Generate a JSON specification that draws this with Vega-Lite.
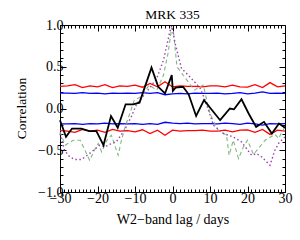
{
  "$schema": "https://vega.github.io/schema/vega-lite/v6.json",
  "width": 225,
  "height": 167,
  "autosize": {"type": "none"},
  "padding": {"left": 60, "top": 25, "right": 15, "bottom": 48},
  "background": "white",
  "title": {"text": "MRK 335", "font": "Liberation Serif", "fontSize": 13.5, "fontWeight": "normal", "color": "black", "offset": -3, "anchor": "middle"},
  "config": {
    "view": {"stroke": null},
    "axis": {"grid": false, "domainColor": "black", "tickColor": "black", "labelColor": "black", "titleColor": "black", "labelFont": "Liberation Serif", "titleFont": "Liberation Serif", "labelFontSize": 14, "titleFontSize": 14, "titleFontWeight": "normal", "labelFlush": false, "labelOverlap": false, "domainWidth": 1, "tickWidth": 1}
  },
  "datasets": {
    "black": [
      {"lag": -30, "r": -0.14}, {"lag": -28.4, "r": -0.34}, {"lag": -26.8, "r": -0.24}, {"lag": -24.3, "r": -0.24},
      {"lag": -22.2, "r": -0.27}, {"lag": -20.3, "r": -0.27}, {"lag": -18.4, "r": -0.44}, {"lag": -16.4, "r": -0.09},
      {"lag": -14.6, "r": -0.23}, {"lag": -12.5, "r": 0.05}, {"lag": -10.5, "r": 0.05}, {"lag": -8.8, "r": 0.07},
      {"lag": -5.6, "r": 0.49}, {"lag": -3.8, "r": 0.26}, {"lag": -2.0, "r": 0.18}, {"lag": -0.2, "r": 0.40},
      {"lag": 0.1, "r": 0.21}, {"lag": 0.8, "r": 0.25}, {"lag": 2.8, "r": 0.26}, {"lag": 4.3, "r": 0.17},
      {"lag": 6.3, "r": -0.09}, {"lag": 8.4, "r": 0.10}, {"lag": 12.7, "r": -0.14}, {"lag": 15.3, "r": 0.0},
      {"lag": 16.4, "r": -0.01}, {"lag": 18.4, "r": 0.11}, {"lag": 20.3, "r": -0.06}, {"lag": 22.3, "r": -0.22},
      {"lag": 24.4, "r": -0.16}, {"lag": 26.5, "r": -0.30}, {"lag": 28.4, "r": -0.18}, {"lag": 30, "r": -0.23}
    ],
    "green": [
      {"lag": -30, "r": -0.28}, {"lag": -28.6, "r": -0.44}, {"lag": -26.5, "r": -0.38}, {"lag": -24.6, "r": -0.38},
      {"lag": -22.1, "r": -0.62}, {"lag": -20.6, "r": -0.48}, {"lag": -19.8, "r": -0.42}, {"lag": -18.9, "r": -0.52},
      {"lag": -17.5, "r": -0.38}, {"lag": -16.3, "r": -0.32}, {"lag": -14.5, "r": -0.56}, {"lag": -13.6, "r": -0.38},
      {"lag": -12.5, "r": -0.20}, {"lag": -11.3, "r": -0.05}, {"lag": -10.2, "r": 0.10}, {"lag": -8.5, "r": 0.14},
      {"lag": -6.2, "r": 0.28}, {"lag": -4.2, "r": 0.22}, {"lag": -2.4, "r": 0.40}, {"lag": -1.2, "r": 0.66},
      {"lag": -0.2, "r": 0.97}, {"lag": 0.3, "r": 0.90}, {"lag": 1.2, "r": 0.50}, {"lag": 2.5, "r": 0.42},
      {"lag": 4.5, "r": 0.30}, {"lag": 5.8, "r": 0.22}, {"lag": 8.2, "r": 0.28}, {"lag": 10.0, "r": -0.06},
      {"lag": 12.0, "r": -0.25}, {"lag": 14.4, "r": -0.32}, {"lag": 15.1, "r": -0.56}, {"lag": 16.2, "r": -0.38},
      {"lag": 17.6, "r": -0.60}, {"lag": 18.9, "r": -0.46}, {"lag": 20.0, "r": -0.38}, {"lag": 21.6, "r": -0.55},
      {"lag": 24.7, "r": -0.38}, {"lag": 27.3, "r": -0.31}, {"lag": 28.3, "r": -0.36}, {"lag": 29.2, "r": -0.28},
      {"lag": 30, "r": -0.22}
    ],
    "purple": [
      {"lag": -30, "r": -0.30}, {"lag": -28.8, "r": -0.50}, {"lag": -27.4, "r": -0.58}, {"lag": -26.1, "r": -0.61},
      {"lag": -24.3, "r": -0.61}, {"lag": -23.0, "r": -0.57}, {"lag": -21.6, "r": -0.52}, {"lag": -19.4, "r": -0.44},
      {"lag": -18.1, "r": -0.46}, {"lag": -16.3, "r": -0.42}, {"lag": -15.0, "r": -0.40}, {"lag": -12.8, "r": -0.26},
      {"lag": -11.0, "r": -0.10}, {"lag": -9.6, "r": 0.05}, {"lag": -6.9, "r": 0.20}, {"lag": -4.2, "r": 0.36},
      {"lag": -2.4, "r": 0.58}, {"lag": -0.7, "r": 0.92}, {"lag": -0.2, "r": 0.99}, {"lag": 0.7, "r": 0.78},
      {"lag": 2.4, "r": 0.48}, {"lag": 4.2, "r": 0.40}, {"lag": 7.3, "r": 0.25}, {"lag": 8.7, "r": 0.10},
      {"lag": 10.9, "r": -0.20}, {"lag": 13.6, "r": -0.30}, {"lag": 16.2, "r": -0.34}, {"lag": 18.4, "r": -0.40},
      {"lag": 21.1, "r": -0.56}, {"lag": 22.4, "r": -0.54}, {"lag": 23.8, "r": -0.58}, {"lag": 26.0, "r": -0.68},
      {"lag": 27.3, "r": -0.50}, {"lag": 28.4, "r": -0.41}, {"lag": 30, "r": -0.34}
    ],
    "red_up": [
      {"lag": -30, "r": 0.265}, {"lag": -28, "r": 0.27}, {"lag": -26, "r": 0.285}, {"lag": -24, "r": 0.25},
      {"lag": -22, "r": 0.27}, {"lag": -20, "r": 0.26}, {"lag": -18, "r": 0.285}, {"lag": -16, "r": 0.25},
      {"lag": -14, "r": 0.27}, {"lag": -12, "r": 0.265}, {"lag": -10, "r": 0.28}, {"lag": -8, "r": 0.255},
      {"lag": -6, "r": 0.30}, {"lag": -4, "r": 0.26}, {"lag": -2, "r": 0.32}, {"lag": 0, "r": 0.26},
      {"lag": 2, "r": 0.27}, {"lag": 4, "r": 0.265}, {"lag": 6, "r": 0.265}, {"lag": 8, "r": 0.26},
      {"lag": 10, "r": 0.27}, {"lag": 12, "r": 0.27}, {"lag": 14, "r": 0.26}, {"lag": 16, "r": 0.28},
      {"lag": 18, "r": 0.26}, {"lag": 20, "r": 0.255}, {"lag": 22, "r": 0.285}, {"lag": 24, "r": 0.25},
      {"lag": 26, "r": 0.31}, {"lag": 28, "r": 0.26}, {"lag": 30, "r": 0.27}
    ],
    "red_lo": [
      {"lag": -30, "r": -0.265}, {"lag": -28, "r": -0.27}, {"lag": -26, "r": -0.285}, {"lag": -24, "r": -0.25},
      {"lag": -22, "r": -0.27}, {"lag": -20, "r": -0.26}, {"lag": -18, "r": -0.285}, {"lag": -16, "r": -0.25},
      {"lag": -14, "r": -0.27}, {"lag": -12, "r": -0.265}, {"lag": -10, "r": -0.28}, {"lag": -8, "r": -0.255},
      {"lag": -6, "r": -0.30}, {"lag": -4, "r": -0.26}, {"lag": -2, "r": -0.32}, {"lag": 0, "r": -0.26},
      {"lag": 2, "r": -0.27}, {"lag": 4, "r": -0.265}, {"lag": 6, "r": -0.265}, {"lag": 8, "r": -0.26},
      {"lag": 10, "r": -0.27}, {"lag": 12, "r": -0.27}, {"lag": 14, "r": -0.26}, {"lag": 16, "r": -0.28},
      {"lag": 18, "r": -0.26}, {"lag": 20, "r": -0.255}, {"lag": 22, "r": -0.285}, {"lag": 24, "r": -0.25},
      {"lag": 26, "r": -0.31}, {"lag": 28, "r": -0.26}, {"lag": 30, "r": -0.27}
    ],
    "blue_up": [
      {"lag": -30, "r": 0.185}, {"lag": -28, "r": 0.185}, {"lag": -26, "r": 0.18}, {"lag": -24, "r": 0.19},
      {"lag": -22, "r": 0.18}, {"lag": -20, "r": 0.185}, {"lag": -18, "r": 0.175}, {"lag": -16, "r": 0.185},
      {"lag": -14, "r": 0.18}, {"lag": -12, "r": 0.185}, {"lag": -10, "r": 0.18}, {"lag": -8, "r": 0.19},
      {"lag": -6, "r": 0.18}, {"lag": -4, "r": 0.19}, {"lag": -2, "r": 0.165}, {"lag": 0, "r": 0.175},
      {"lag": 2, "r": 0.18}, {"lag": 4, "r": 0.175}, {"lag": 6, "r": 0.185}, {"lag": 8, "r": 0.18},
      {"lag": 10, "r": 0.18}, {"lag": 12, "r": 0.185}, {"lag": 14, "r": 0.175}, {"lag": 16, "r": 0.18},
      {"lag": 18, "r": 0.19}, {"lag": 20, "r": 0.175}, {"lag": 22, "r": 0.185}, {"lag": 24, "r": 0.20},
      {"lag": 26, "r": 0.18}, {"lag": 28, "r": 0.185}, {"lag": 30, "r": 0.18}
    ],
    "blue_lo": [
      {"lag": -30, "r": -0.185}, {"lag": -28, "r": -0.185}, {"lag": -26, "r": -0.18}, {"lag": -24, "r": -0.19},
      {"lag": -22, "r": -0.18}, {"lag": -20, "r": -0.185}, {"lag": -18, "r": -0.175}, {"lag": -16, "r": -0.185},
      {"lag": -14, "r": -0.18}, {"lag": -12, "r": -0.185}, {"lag": -10, "r": -0.18}, {"lag": -8, "r": -0.19},
      {"lag": -6, "r": -0.18}, {"lag": -4, "r": -0.19}, {"lag": -2, "r": -0.165}, {"lag": 0, "r": -0.175},
      {"lag": 2, "r": -0.18}, {"lag": 4, "r": -0.175}, {"lag": 6, "r": -0.185}, {"lag": 8, "r": -0.18},
      {"lag": 10, "r": -0.18}, {"lag": 12, "r": -0.185}, {"lag": 14, "r": -0.175}, {"lag": 16, "r": -0.18},
      {"lag": 18, "r": -0.19}, {"lag": 20, "r": -0.175}, {"lag": 22, "r": -0.185}, {"lag": 24, "r": -0.20},
      {"lag": 26, "r": -0.18}, {"lag": 28, "r": -0.185}, {"lag": 30, "r": -0.18}
    ]
  },
  "resolve": {"axis": {"x": "independent", "y": "independent"}},
  "layer": [
    {
      "data": {"name": "red_up"},
      "mark": {"type": "line", "color": "#ff0000", "strokeWidth": 1.3},
      "encoding": {
        "x": {"field": "lag", "type": "quantitative", "scale": {"domain": [-30, 30], "nice": false, "zero": false},
              "axis": {"orient": "bottom", "values": [-30, -20, -10, 0, 10, 20, 30], "tickSize": -6, "labelPadding": 5, "title": "W2−band lag / days", "titlePadding": 7}},
        "y": {"field": "r", "type": "quantitative", "scale": {"domain": [-1, 1], "nice": false, "zero": false},
              "axis": {"orient": "left", "values": [-1, -0.5, 0, 0.5, 1], "format": ".1f", "tickSize": -6, "labelPadding": 3, "title": "Correlation", "titleFontSize": 13.5, "titleX": -32, "titleY": 83, "titleAngle": -90, "titleBaseline": "bottom", "titleAlign": "center"}}
      }
    },
    {
      "data": {"name": "red_lo"},
      "mark": {"type": "line", "color": "#ff0000", "strokeWidth": 1.3},
      "encoding": {
        "x": {"field": "lag", "type": "quantitative", "axis": {"orient": "top", "values": [-30, -20, -10, 0, 10, 20, 30], "tickSize": -6, "labels": false, "title": null}},
        "y": {"field": "r", "type": "quantitative", "axis": {"orient": "right", "values": [-1, -0.5, 0, 0.5, 1], "tickSize": -6, "labels": false, "title": null}}
      }
    },
    {
      "data": {"name": "blue_up"},
      "mark": {"type": "line", "color": "#0000ff", "strokeWidth": 1.3},
      "encoding": {
        "x": {"field": "lag", "type": "quantitative", "axis": {"orient": "bottom", "values": [-30,-29,-28,-27,-26,-25,-24,-23,-22,-21,-20,-19,-18,-17,-16,-15,-14,-13,-12,-11,-10,-9,-8,-7,-6,-5,-4,-3,-2,-1,0,1,2,3,4,5,6,7,8,9,10,11,12,13,14,15,16,17,18,19,20,21,22,23,24,25,26,27,28,29,30], "tickSize": -3, "labels": false, "domain": false, "title": null}},
        "y": {"field": "r", "type": "quantitative", "axis": {"orient": "left", "values": [-1,-0.9,-0.8,-0.7,-0.6,-0.5,-0.4,-0.3,-0.2,-0.1,0,0.1,0.2,0.3,0.4,0.5,0.6,0.7,0.8,0.9,1], "tickSize": -3, "labels": false, "domain": false, "title": null}}
      }
    },
    {
      "data": {"name": "blue_lo"},
      "mark": {"type": "line", "color": "#0000ff", "strokeWidth": 1.3},
      "encoding": {
        "x": {"field": "lag", "type": "quantitative", "axis": {"orient": "top", "values": [-30,-29,-28,-27,-26,-25,-24,-23,-22,-21,-20,-19,-18,-17,-16,-15,-14,-13,-12,-11,-10,-9,-8,-7,-6,-5,-4,-3,-2,-1,0,1,2,3,4,5,6,7,8,9,10,11,12,13,14,15,16,17,18,19,20,21,22,23,24,25,26,27,28,29,30], "tickSize": -3, "labels": false, "domain": false, "title": null}},
        "y": {"field": "r", "type": "quantitative", "axis": {"orient": "right", "values": [-1,-0.9,-0.8,-0.7,-0.6,-0.5,-0.4,-0.3,-0.2,-0.1,0,0.1,0.2,0.3,0.4,0.5,0.6,0.7,0.8,0.9,1], "tickSize": -3, "labels": false, "domain": false, "title": null}}
      }
    },
    {
      "data": {"name": "green"},
      "mark": {"type": "line", "color": "#80b880", "strokeWidth": 1.1, "strokeDash": [4, 3]},
      "encoding": {
        "x": {"field": "lag", "type": "quantitative", "axis": null},
        "y": {"field": "r", "type": "quantitative", "axis": null}
      }
    },
    {
      "data": {"name": "purple"},
      "mark": {"type": "line", "color": "#a040b0", "strokeWidth": 1.4, "strokeDash": [1.5, 2.5]},
      "encoding": {
        "x": {"field": "lag", "type": "quantitative", "axis": null},
        "y": {"field": "r", "type": "quantitative", "axis": null}
      }
    },
    {
      "data": {"name": "black"},
      "mark": {"type": "line", "color": "#000000", "strokeWidth": 1.8},
      "encoding": {
        "x": {"field": "lag", "type": "quantitative", "axis": null},
        "y": {"field": "r", "type": "quantitative", "axis": null}
      }
    }
  ]
}
